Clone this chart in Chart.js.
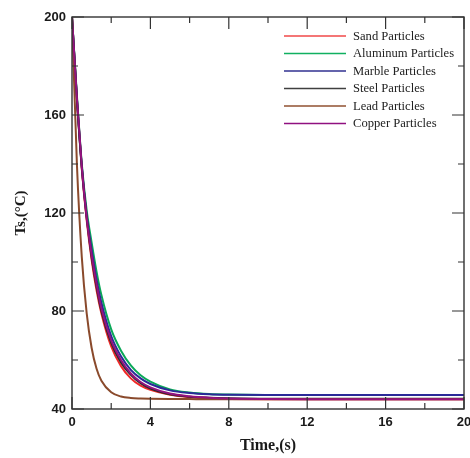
<!DOCTYPE html>
<html><head><meta charset="utf-8">
<script src="https://cdn.jsdelivr.net/npm/chart.js@4/dist/chart.umd.min.js"></script>
<style>html,body{margin:0;padding:0;background:#fff}</style>
</head><body>
<canvas id="c" width="470" height="458"></canvas>
<script>
// ---- data ----
const timeS = [0,0.25,0.5,0.75,1,1.25,1.5,2,2.5,3,3.5,4,5,6,7,8,10,12,14,16,18,20];
const sandT     = [200,166,138,117,101,88.5,79,65.5,57.5,52.5,49.5,47.8,45.8,44.8,44.3,44.1,44,44,44,44,44,44];
const aluminumT = [200,168,140,121,108,96.2,86.5,72.5,63.8,57.8,53.8,51.2,48,46.7,46.1,45.9,45.75,45.7,45.7,45.7,45.7,45.7];
const marbleT   = [200,167,139,119,105,93,83.4,69.8,61.5,56,52.5,50.2,47.6,46.5,46,45.8,45.7,45.7,45.7,45.7,45.7,45.7];
const steelT    = [200,166.5,138.5,118,102,90,80,67,59,54,50.5,48.3,46,45,44.6,44.4,44.2,44.2,44.2,44.2,44.2,44.2];
const leadT     = [200,140,102,79,65,56.5,51.5,46.8,45.1,44.5,44.3,44.2,44.1,44.05,44,44,44,44,44,44,44,44];
const copperT   = [200,167,139,118,103,91,81,68,60,54.5,51,48.8,46.3,45.2,44.6,44.3,44.1,44,44,44,44,44];
const seriesNames = ["Sand Particles","Aluminum Particles","Marble Particles","Steel Particles","Lead Particles","Copper Particles"];
const xTickValues = [0,4,8,12,16,20];
const yTickValues = [40,80,120,160,200];

const seriesValues = [sandT, aluminumT, marbleT, steelT, leadT, copperT];
const colors = ["#f02828","#0aa858","#2a2a98","#2a2a2a","#8a4a2c","#94127e"];
const legendColors = ["#f04848","#10b060","#303090","#404040","#905030","#901080"];

const datasets = seriesNames.map((name,i)=>({
  label: name,
  data: timeS.map((t,k)=>({x:t, y:seriesValues[i][k]})),
  borderColor: colors[i],
  backgroundColor: colors[i],
  borderWidth: 2,
  pointRadius: 0,
  fill: false,
  order: seriesNames.length - 1 - i,
  cubicInterpolationMode: 'monotone'
}));

const framePlugin = {
  id: 'frame',
  afterDraw(chart){
    const {ctx, chartArea:a, scales:{x,y}} = chart;
    ctx.save();
    ctx.strokeStyle = '#333';
    ctx.lineWidth = 1.4;
    ctx.strokeRect(a.left, a.top, a.right-a.left, a.bottom-a.top);
    ctx.lineWidth = 1.2;
    ctx.beginPath();
    for (let v = 0; v <= 20; v += 2) {
      const px = x.getPixelForValue(v);
      const len = (v % 4 === 0) ? 12 : 6;
      ctx.moveTo(px, a.bottom); ctx.lineTo(px, a.bottom - len);
      ctx.moveTo(px, a.top); ctx.lineTo(px, a.top + len);
    }
    for (let v = 40; v <= 200; v += 20) {
      const py = y.getPixelForValue(v);
      const len = (v % 40 === 0) ? 12 : 6;
      ctx.moveTo(a.left, py); ctx.lineTo(a.left + len, py);
      ctx.moveTo(a.right, py); ctx.lineTo(a.right - len, py);
    }
    ctx.stroke();
    // legend (labels come from the datasets, in dataset order)
    ctx.font = '12.6px "Liberation Serif", "Times New Roman", serif';
    ctx.textBaseline = 'middle';
    ctx.textAlign = 'left';
    chart.data.datasets.forEach((ds,i)=>{
      const yy = 36 + i*17.5;
      ctx.strokeStyle = legendColors[i];
      ctx.lineWidth = 1.5;
      ctx.beginPath(); ctx.moveTo(284, yy); ctx.lineTo(346, yy); ctx.stroke();
      ctx.fillStyle = '#222';
      ctx.fillText(ds.label, 353, yy+0.5);
    });
    ctx.restore();
  }
};

new Chart(document.getElementById('c'), {
  type: 'line',
  data: { datasets },
  options: {
    responsive: false,
    animation: false,
    layout: { padding: { top: 17, right: 6, left: 0, bottom: 0 } },
    plugins: { legend: { display: false }, tooltip: { enabled: false } },
    scales: {
      x: {
        type: 'linear', min: 0, max: 20,
        afterBuildTicks(s){ s.ticks = xTickValues.map(v=>({value:v})); },
        afterFit(s){ s.height = 49; s.paddingLeft = 0; s.paddingRight = 0; },
        grid: { display: false, drawTicks: false },
        border: { display: false },
        ticks: { padding: 6, color: '#1a1a1a', maxRotation: 0, font: { family: '"Liberation Sans", Arial, sans-serif', weight: 'bold', size: 13 } },
        title: { display: true, text: 'Time,(s)', color: '#1a1a1a', padding: { top: 0, bottom: 3 }, font: { family: '"Liberation Serif", "Times New Roman", serif', weight: 'bold', size: 16 } }
      },
      y: {
        type: 'linear', min: 40, max: 200,
        afterBuildTicks(s){ s.ticks = yTickValues.map(v=>({value:v})); },
        afterFit(s){ s.width = 72; s.paddingTop = 0; s.paddingBottom = 0; },
        grid: { display: false, drawTicks: false },
        border: { display: false },
        ticks: { padding: 6, color: '#1a1a1a', font: { family: '"Liberation Sans", Arial, sans-serif', weight: 'bold', size: 13 } },
        title: { display: true, text: 'Ts,(°C)', color: '#1a1a1a', padding: { top: 12, bottom: 0 }, font: { family: '"Liberation Serif", "Times New Roman", serif', weight: 'bold', size: 15 } }
      }
    }
  },
  plugins: [framePlugin]
});
</script>
</body></html>
